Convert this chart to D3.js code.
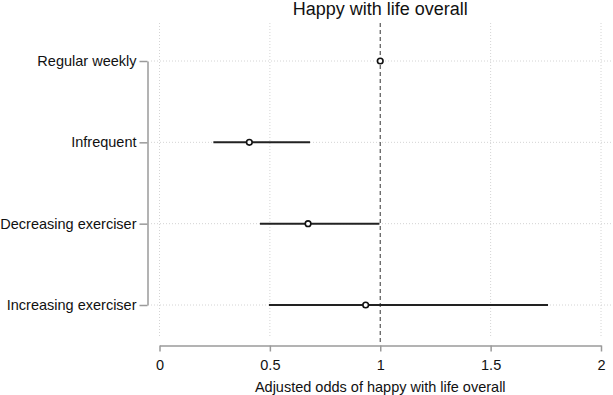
<!DOCTYPE html>
<html>
<head>
<meta charset="utf-8">
<script src="https://cdn.jsdelivr.net/npm/d3@7"></script>
<style>
  body { margin: 0; background: #fff; }
  svg { display: block; font-family: "Liberation Sans", Arial, sans-serif; }
</style>
</head>
<body>
<div id="chart"></div>
<script>
// data
var categories = ["Regular weekly", "Infrequent", "Decreasing exerciser", "Increasing exerciser"]
var estimates = [1, 0.407, 0.673, 0.934]
var lower = [null, 0.244, 0.455, 0.496]
var upper = [null, 0.682, 0.996, 1.76]
var xTicks = [0, 0.5, 1, 1.5, 2]

var width = 613, height = 395
var svg = d3.select("#chart").append("svg")
  .attr("width", width)
  .attr("height", height)

var x = d3.scaleLinear().domain([0, 2]).range([159.5, 601])
var y = d3.scalePoint().domain(categories).range([61, 305])

var rows = categories.map(function(c, i) {
  return { cat: c, est: estimates[i], lo: lower[i], hi: upper[i] }
})

// gridlines
svg.append("g").selectAll("line")
  .data(categories).enter().append("line")
    .attr("x1", 151).attr("x2", width)
    .attr("y1", function(d) { return y(d) }).attr("y2", function(d) { return y(d) })
    .attr("stroke", "#d4d4d4").attr("stroke-dasharray", "1,2")
svg.append("g").selectAll("line")
  .data(xTicks.filter(function(t) { return t !== 1 })).enter().append("line")
    .attr("x1", function(d) { return x(d) }).attr("x2", function(d) { return x(d) })
    .attr("y1", 23).attr("y2", 338)
    .attr("stroke", "#d4d4d4").attr("stroke-dasharray", "1,2")

// reference line at 1
svg.append("line")
  .attr("x1", x(1)).attr("x2", x(1))
  .attr("y1", 23).attr("y2", 345)
  .attr("stroke", "#555").attr("stroke-width", 1.2)
  .attr("stroke-dasharray", "4,3")

// x axis
var xAxis = svg.append("g")
  .attr("transform", "translate(0,345.5)")
  .call(d3.axisBottom(x).tickValues(xTicks).tickSize(6).tickPadding(8)
    .tickSizeOuter(0).tickFormat(d3.format("")))
xAxis.select(".domain").attr("stroke", "#9a9a9a").attr("stroke-width", 1.5)
xAxis.selectAll(".tick line").attr("stroke", "#9a9a9a").attr("stroke-width", 1.5)
xAxis.selectAll("text").attr("font-size", 14.5).attr("fill", "#111")
  .attr("font-family", "'Liberation Sans', Arial, sans-serif")

// y axis
var yAxis = svg.append("g")
  .attr("transform", "translate(147.5,0)")
  .call(d3.axisLeft(y).tickSize(8).tickSizeOuter(0).tickPadding(3))
yAxis.select(".domain").attr("stroke", "#9a9a9a").attr("stroke-width", 1.5)
yAxis.selectAll(".tick line").attr("stroke", "#9a9a9a").attr("stroke-width", 1.5)
yAxis.selectAll("text").attr("font-size", 14.5).attr("fill", "#111")
  .attr("font-family", "'Liberation Sans', Arial, sans-serif")

// confidence intervals
svg.append("g").selectAll("line")
  .data(rows.filter(function(d) { return d.lo !== null })).enter().append("line")
    .attr("x1", function(d) { return x(d.lo) }).attr("x2", function(d) { return x(d.hi) })
    .attr("y1", function(d) { return y(d.cat) }).attr("y2", function(d) { return y(d.cat) })
    .attr("stroke", "#222").attr("stroke-width", 2)

// point estimates
svg.append("g").selectAll("circle")
  .data(rows).enter().append("circle")
    .attr("cx", function(d) { return x(d.est) })
    .attr("cy", function(d) { return y(d.cat) })
    .attr("r", 2.8)
    .attr("fill", "#fff").attr("stroke", "#111").attr("stroke-width", 1.6)

// titles
svg.append("text")
  .attr("x", x(1)).attr("y", 15)
  .attr("text-anchor", "middle")
  .attr("font-size", 18).attr("fill", "#111")
  .text("Happy with life overall")

svg.append("text")
  .attr("x", x(1)).attr("y", 392)
  .attr("text-anchor", "middle")
  .attr("font-size", 14.5).attr("fill", "#111")
  .text("Adjusted odds of happy with life overall")
</script>
</body>
</html>
